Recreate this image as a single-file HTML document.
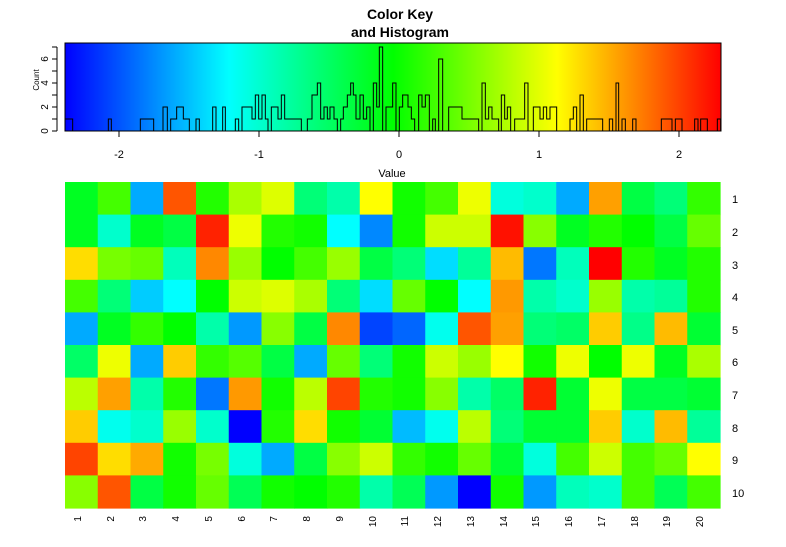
<!DOCTYPE html>
<html><head><meta charset="utf-8"><style>
html,body{margin:0;padding:0;background:#fff;}
svg{display:block;font-family:"Liberation Sans",Arial,sans-serif;}
</style></head><body>
<svg id="s" width="786" height="547" viewBox="0 0 786 547" xmlns="http://www.w3.org/2000/svg">
<defs><linearGradient id="g" x1="0" x2="1" y1="0" y2="0">
<stop offset="0" stop-color="#0000ff"/><stop offset="0.25" stop-color="#00ffff"/><stop offset="0.5" stop-color="#00ff00"/><stop offset="0.75" stop-color="#ffff00"/><stop offset="1" stop-color="#ff0000"/></linearGradient></defs>
<text x="400" y="19" font-size="14" font-weight="bold" text-anchor="middle">Color Key</text>
<text x="400" y="37" font-size="14" font-weight="bold" text-anchor="middle">and Histogram</text>
<rect x="65" y="43" width="656" height="88" fill="url(#g)"/>
<g transform="translate(30,0) scale(0.33333)" fill="none" stroke="#000">
<path vector-effect="non-scaling-stroke" stroke-width="1" d="M105 393 V357 H128 V393 H235 V357 H244 V393 H331 V357 H371 V393 H399 V321 H412 V393 H422 V357 H440 V321 H460 V357 H478 V393 H498 V357 H508 V393 H548 V321 H558 V393 H578 V321 H586 V393 H616 V357 H626 V393 H636 V321 H666 V357 H676 V285 H686 V357 H696 V285 H706 V357 H714 V393 H724 V321 H744 V357 H754 V285 H764 V357 H794 V357 H814 V393 H832 V357 H846 V285 H862 V249 H872 V357 H882 V321 H892 V357 H900 V321 H912 V357 H922 V393 H932 V357 H940 V321 H952 V285 H962 V249 H970 V285 H978 V357 H990 V285 H1000 V357 H1010 V321 H1020 V393 H1030 V249 H1040 V321 H1048 V141 H1058 V393 H1068 V321 H1088 V249 H1098 V393 H1108 V321 H1118 V285 H1132"/>
</g>
<g transform="translate(400,0) scale(0.33333)" fill="none" stroke="#000">
<path vector-effect="non-scaling-stroke" stroke-width="1" d="M6 285 H24 V321 H34 V357 H44 V393 H56 V285 H66 V321 H76 V285 H88 V393 H98 V357 H106 V393 H116 V177 H128 V393 H146 V321 H186 V357 H236 V393 H246 V249 H256 V357 H266 V321 H276 V357 H296 V393 H304 V285 H314 V357 H322 V321 H332 V393 H344 V357 H374 V249 H384 V393 H400 V321 H420 V357 H430 V321 H440 V357 H450 V321 H470 V393 H510 V357 H520 V321 H530 V393 H540 V285 H550 V393 H560 V357 H608 V393 H628 V357 H638 V393 H648 V249 H656 V393 H666 V357 H676 V393 H698 V357 H708 V393 H784 V357 H816 V393 H826 V357 H846 V393 H884 V357 H894 V393 H902 V357 H922 V393 H952 V357 H962 V393"/>
</g>
<rect x="65" y="43" width="656" height="88" fill="none" stroke="#000" stroke-width="1"/>
<g stroke="#000" stroke-width="1">
<line x1="57" y1="47" x2="57" y2="131"/>
<line x1="52" y1="131" x2="57" y2="131"/><line x1="52" y1="119" x2="57" y2="119"/><line x1="52" y1="107" x2="57" y2="107"/><line x1="52" y1="95" x2="57" y2="95"/><line x1="52" y1="83" x2="57" y2="83"/><line x1="52" y1="71" x2="57" y2="71"/><line x1="52" y1="59" x2="57" y2="59"/><line x1="52" y1="47" x2="57" y2="47"/>
<line x1="119" y1="131" x2="119" y2="137"/><line x1="259" y1="131" x2="259" y2="137"/><line x1="399" y1="131" x2="399" y2="137"/><line x1="539" y1="131" x2="539" y2="137"/><line x1="679" y1="131" x2="679" y2="137"/>
</g>
<g font-size="10" text-anchor="middle">
<text transform="translate(48,131) rotate(-90)">0</text>
<text transform="translate(48,107) rotate(-90)">2</text>
<text transform="translate(48,83) rotate(-90)">4</text>
<text transform="translate(48,59) rotate(-90)">6</text>
<text transform="translate(39,80) rotate(-90)" font-size="8">Count</text>
</g>
<g font-size="11" text-anchor="middle">
<text x="119" y="158">-2</text><text x="259" y="158">-1</text><text x="399" y="158">0</text><text x="539" y="158">1</text><text x="679" y="158">2</text>
<text x="392" y="177">Value</text>
</g>
<g id="hm"></g>
<g font-size="11" id="rl"></g>
<g font-size="10" id="cl"></g>
<script>
var C=[
"00ff22 44ff00 00aaff ff5500 22ff00 aaff00 ddff00 00ff77 00ffaa ffff00 11ff00 44ff00 eeff00 00ffdd 00ffcc 00aaff ffa000 00ff44 00ff77 33ff00",
"00ff22 00ffcc 00ff22 00ff44 ff2200 eeff00 22ff00 11ff00 00ffff 0088ff 11ff00 ccff00 ccff00 ff1100 88ff00 00ff22 22ff00 00ff00 00ff44 66ff00",
"ffdd00 77ff00 66ff00 00ffbb ff8800 99ff00 00ff00 44ff00 99ff00 00ff44 00ff77 00ddff 00ff99 ffbb00 0077ff 00ffbb ff0000 22ff00 00ff22 22ff00",
"44ff00 00ff77 00ccff 00ffff 00ff00 ccff00 ddff00 aaff00 00ff77 00ddff 66ff00 00ff00 00ffff ff9900 00ffaa 00ffcc 99ff00 00ffaa 00ff99 22ff00",
"00aaff 00ff22 33ff00 00ff00 00ffaa 0099ff 88ff00 00ff44 ff8800 0044ff 0066ff 00ffee ff5500 ffa000 00ff77 00ff66 ffcc00 00ff88 ffbb00 00ff33",
"00ff66 eeff00 00aaff ffcc00 33ff00 55ff00 00ff44 00aaff 66ff00 00ff77 11ff00 ccff00 99ff00 ffff00 11ff00 eeff00 00ff00 eeff00 00ff22 aaff00",
"bbff00 ffa000 00ffaa 22ff00 0077ff ff9900 11ff00 bbff00 ff4400 22ff00 11ff00 88ff00 00ffaa 00ff66 ff2200 00ff33 eeff00 00ff44 00ff44 00ff33",
"ffcc00 00ffee 00ffcc 99ff00 00ffcc 0000ff 22ff00 ffdd00 11ff00 00ff33 00bbff 00ffee bbff00 00ff77 00ff33 00ff33 ffcc00 00ffcc ffbb00 00ff99",
"ff4400 ffdd00 ffaa00 11ff00 77ff00 00ffdd 00aaff 00ff44 88ff00 ccff00 33ff00 11ff00 66ff00 00ff33 00ffdd 44ff00 ccff00 44ff00 66ff00 ffff00",
"88ff00 ff5500 00ff44 11ff00 66ff00 00ff55 11ff00 00ff00 22ff00 00ffaa 00ff55 0099ff 0000ff 11ff00 0099ff 00ffbb 00ffcc 44ff00 00ff55 44ff00"];
var ns="http://www.w3.org/2000/svg",hm=document.getElementById("hm");
var x0=65,y0=182,cw=32.75,ch=32.6;
for(var r=0;r<10;r++){var a=C[r].split(" ");for(var c=0;c<20;c++){var e=document.createElementNS(ns,"rect");
e.setAttribute("x",x0+c*cw);e.setAttribute("y",y0+r*ch);e.setAttribute("width",cw+0.6);e.setAttribute("height",ch+0.6);e.setAttribute("fill","#"+a[c]);hm.appendChild(e);}}
</script>
<g font-size="11">
<text x="732" y="203">1</text><text x="732" y="236">2</text><text x="732" y="269">3</text><text x="732" y="301">4</text><text x="732" y="334">5</text><text x="732" y="366">6</text><text x="732" y="399">7</text><text x="732" y="432">8</text><text x="732" y="464">9</text><text x="732" y="497">10</text>
</g>
<g font-size="10" text-anchor="end">
<text transform="translate(81,516) rotate(-90)">1</text>
<text transform="translate(114,516) rotate(-90)">2</text>
<text transform="translate(146,516) rotate(-90)">3</text>
<text transform="translate(179,516) rotate(-90)">4</text>
<text transform="translate(212,516) rotate(-90)">5</text>
<text transform="translate(245,516) rotate(-90)">6</text>
<text transform="translate(277,516) rotate(-90)">7</text>
<text transform="translate(310,516) rotate(-90)">8</text>
<text transform="translate(343,516) rotate(-90)">9</text>
<text transform="translate(376,516) rotate(-90)">10</text>
<text transform="translate(408,516) rotate(-90)">11</text>
<text transform="translate(441,516) rotate(-90)">12</text>
<text transform="translate(474,516) rotate(-90)">13</text>
<text transform="translate(507,516) rotate(-90)">14</text>
<text transform="translate(539,516) rotate(-90)">15</text>
<text transform="translate(572,516) rotate(-90)">16</text>
<text transform="translate(605,516) rotate(-90)">17</text>
<text transform="translate(638,516) rotate(-90)">18</text>
<text transform="translate(670,516) rotate(-90)">19</text>
<text transform="translate(703,516) rotate(-90)">20</text>
</g>
</svg>
</body></html>
